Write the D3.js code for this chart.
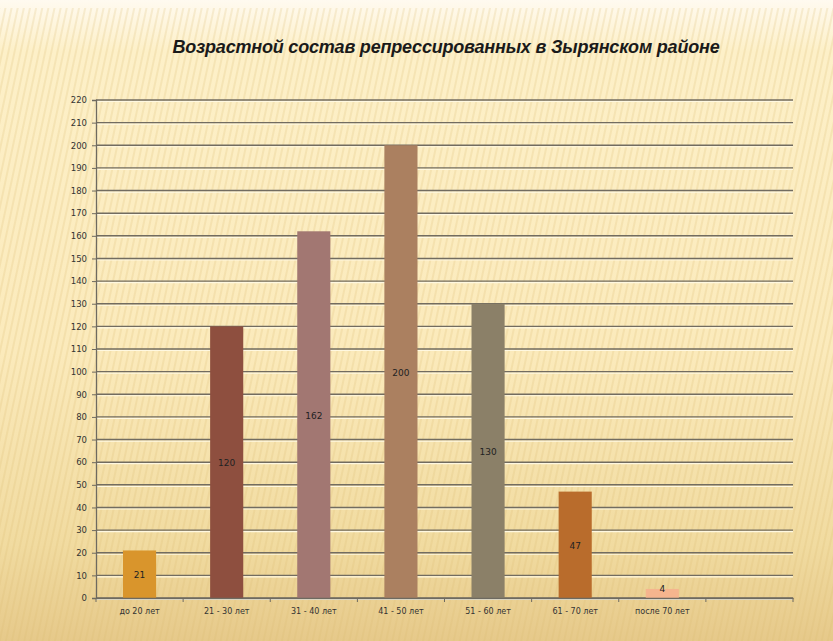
<!DOCTYPE html>
<html>
<head>
<meta charset="utf-8">
<script src="https://cdn.jsdelivr.net/npm/d3@7"></script>
<style>
  body { margin: 0; background: #fff; }
  svg { display: block; }
</style>
</head>
<body>
<div class="chart"></div>
<script>
const title = 'Возрастной состав репрессированных в Зырянском районе'
const categories = ['до 20 лет', '21 - 30 лет', '31 - 40 лет', '41 - 50 лет', '51 - 60 лет', '61 - 70 лет', 'после 70 лет', '']
const values = [21, 120, 162, 200, 130, 47, 4]
const colors = ['#d9952c', '#8e4f3f', '#a27772', '#ab8060', '#8b8068', '#b96c2c', '#f5b58e']
const yTicks = d3.range(0, 221, 10)

const width = 833
const height = 641
const margin = { top: 100, right: 40, bottom: 43, left: 96 }

const svg = d3
  .select('.chart')
  .append('svg')
  .attr('width', width)
  .attr('height', height)

const defs = svg.append('defs')

const bg = defs.append('linearGradient')
  .attr('id', 'bg')
  .attr('x1', 0).attr('y1', 0)
  .attr('x2', 0).attr('y2', 1)
bg.append('stop').attr('offset', '0%').attr('stop-color', '#fffaf0')
bg.append('stop').attr('offset', '8%').attr('stop-color', '#fdf0c8')
bg.append('stop').attr('offset', '55%').attr('stop-color', '#fbeabb')
bg.append('stop').attr('offset', '85%').attr('stop-color', '#f1dba0')
bg.append('stop').attr('offset', '100%').attr('stop-color', '#e6c98a')

const stripes = defs.append('pattern')
  .attr('id', 'stripes')
  .attr('width', 6)
  .attr('height', 6)
  .attr('patternUnits', 'userSpaceOnUse')
  .attr('patternTransform', 'rotate(12)')
stripes.append('rect')
  .attr('width', 2)
  .attr('height', 6)
  .attr('fill', '#d9b970')
  .attr('opacity', 0.22)

svg.append('rect')
  .attr('width', width)
  .attr('height', height)
  .attr('fill', 'url(#bg)')
svg.append('rect')
  .attr('y', 8)
  .attr('width', width)
  .attr('height', height - 8)
  .attr('fill', 'url(#stripes)')

svg.append('text')
  .attr('x', 446)
  .attr('y', 53)
  .attr('text-anchor', 'middle')
  .style('font-family', 'Liberation Sans, Arial, sans-serif')
  .style('font-weight', 'bold')
  .style('font-style', 'italic')
  .style('font-size', '18px')
  .style('letter-spacing', '-0.2px')
  .attr('fill', '#1a1a1a')
  .text(title)

const x = d3.scaleBand()
  .domain(categories.map((c, i) => i))
  .range([margin.left, width - margin.right])
  .paddingInner(0.62)
  .paddingOuter(0.31)

const xSlots = d3.scaleBand()
  .domain(categories.map((c, i) => i))
  .range([margin.left, width - margin.right])

const y = d3.scaleLinear()
  .domain([0, 220])
  .range([height - margin.bottom, margin.top])

// gridlines
const grid = svg.append('g')
grid.selectAll('line.shadow')
  .data(yTicks)
  .enter()
  .append('line')
  .attr('x1', margin.left)
  .attr('x2', width - margin.right)
  .attr('y1', d => y(d) + 1.5)
  .attr('y2', d => y(d) + 1.5)
  .attr('stroke', '#fff8e0')
  .attr('stroke-width', 1.2)
grid.selectAll('line.main')
  .data(yTicks)
  .enter()
  .append('line')
  .attr('x1', margin.left)
  .attr('x2', width - margin.right)
  .attr('y1', d => y(d))
  .attr('y2', d => y(d))
  .attr('stroke', '#726c60')
  .attr('stroke-width', 1.4)

// bars
svg.selectAll('rect.bar')
  .data(values)
  .enter()
  .append('rect')
  .attr('class', 'bar')
  .attr('x', (d, i) => x(i))
  .attr('y', d => y(d))
  .attr('width', x.bandwidth())
  .attr('height', d => y(0) - y(d))
  .attr('fill', (d, i) => colors[i])

svg.selectAll('text.val')
  .data(values)
  .enter()
  .append('text')
  .attr('class', 'val')
  .attr('x', (d, i) => x(i) + x.bandwidth() / 2)
  .attr('y', d => d < 10 ? y(d) + 3 : (y(0) + y(d)) / 2 + 4)
  .attr('text-anchor', 'middle')
  .style('font-family', 'DejaVu Sans, sans-serif')
  .style('font-size', '9px')
  .attr('fill', '#222')
  .text(d => d)

// y axis
const yAxis = d3.axisLeft(y)
  .tickValues(yTicks)
  .tickSize(4)
  .tickPadding(5)
const gy = svg.append('g')
  .attr('transform', `translate(${margin.left},0)`)
  .call(yAxis)
gy.select('.domain').attr('stroke', '#6e6a60').attr('stroke-width', 1.3)
gy.selectAll('.tick line').attr('stroke', '#6e6a60')
gy.selectAll('.tick text')
  .style('font-family', 'DejaVu Sans, sans-serif')
  .style('font-size', '8.5px')
  .attr('fill', '#333')

// x axis
const xAxis = d3.axisBottom(xSlots)
  .tickSize(0)
  .tickPadding(10)
  .tickFormat(i => categories[i])
const gx = svg.append('g')
  .attr('transform', `translate(0,${y(0)})`)
  .call(xAxis)
gx.select('.domain').attr('stroke', '#6e6a60').attr('stroke-width', 1.3)
gx.selectAll('.tick text')
  .style('font-family', 'DejaVu Sans, sans-serif')
  .style('font-size', '8px')
  .attr('fill', '#333')
gx.selectAll('line.sep')
  .data(d3.range(categories.length + 1))
  .enter()
  .append('line')
  .attr('class', 'sep')
  .attr('x1', i => margin.left + i * xSlots.step())
  .attr('x2', i => margin.left + i * xSlots.step())
  .attr('y1', 0)
  .attr('y2', 4)
  .attr('stroke', '#6e6a60')
</script>
</body>
</html>
